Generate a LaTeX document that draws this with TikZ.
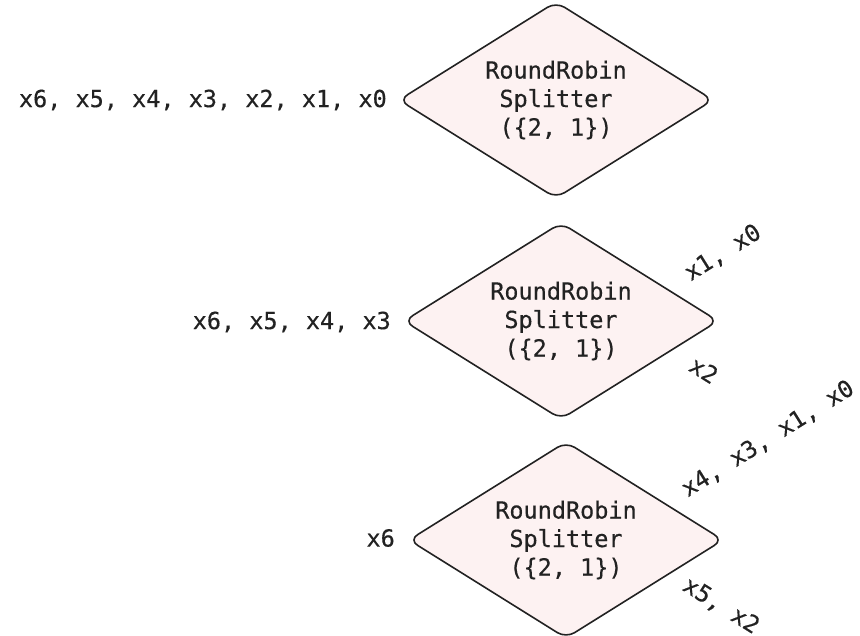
\documentclass[tikz,border=0pt]{standalone}
\usepackage{fontspec}
\newfontfamily\codefont{DejaVu Sans Mono}[FakeBold=0.4]
\usetikzlibrary{shapes.geometric}
\definecolor{splitfill}{HTML}{FDF2F2}
\definecolor{ink}{HTML}{222222}
\tikzset{
  splitter/.style={diamond, aspect=1.62, draw=ink, line width=1.6pt, fill=splitfill,
    rounded corners=10pt, inner sep=0pt, outer sep=0pt,
    minimum width=314pt, minimum height=196pt,
    align=center, font=\codefont\fontsize{23.5}{28.5}\selectfont, text=ink},
  lbl/.style={font=\codefont\fontsize{23.5}{27}\selectfont, text=ink, inner sep=0pt},
}
\begin{document}
\begin{tikzpicture}[x=1pt,y=-1pt]
  \useasboundingbox (0,0) rectangle (860,636);
  % three round-robin splitters
  \node[splitter] (s1) at (556,100) {RoundRobin\\Splitter\\(\{2, 1\})};
  \node[splitter] (s2) at (561,321) {RoundRobin\\Splitter\\(\{2, 1\})};
  \node[splitter] (s3) at (566,540) {RoundRobin\\Splitter\\(\{2, 1\})};
  % input streams
  \node[lbl, anchor=east] (in1) at (387,100) {x6, x5, x4, x3, x2, x1, x0};
  \node[lbl, anchor=east] (in2) at (391,322) {x6, x5, x4, x3};
  \node[lbl, anchor=east] (in3) at (395,538) {x6};
  % output streams along the right edges
  \node[lbl, rotate=32] (o2a) at (723,253) {x1, x0};
  \node[lbl, rotate=-32] (o2b) at (704,370) {x2};
  \node[lbl, rotate=32] (o3a) at (768,439) {x4, x3, x1, x0};
  \node[lbl, rotate=-32] (o3b) at (721,606) {x5, x2};
\end{tikzpicture}
\end{document}
